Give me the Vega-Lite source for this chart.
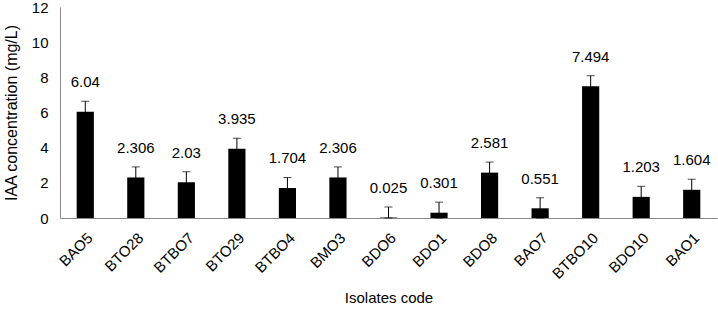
{
  "$schema": "https://vega.github.io/schema/vega-lite/v6.json",
  "autosize": {"type": "none"},
  "width": 657,
  "height": 211,
  "padding": {"left": 60, "top": 7, "right": 1, "bottom": 92},
  "background": "white",
  "config": {
    "view": {"stroke": null},
    "font": "Liberation Sans",
    "axis": {"labelFont": "Liberation Sans", "titleFont": "Liberation Sans", "labelColor": "#000", "titleColor": "#000", "grid": false, "ticks": false, "domainColor": "#898989", "labelFontSize": 15, "titleFontSize": 15, "titleFontWeight": "normal"},
    "axisY": {"labelOverlap": false, "labelFlush": false, "labelBound": false}
  },
  "data": {
    "values": [
      {"code": "BAO5", "value": 6.04, "err": 0.6},
      {"code": "BTO28", "value": 2.306, "err": 0.6},
      {"code": "BTBO7", "value": 2.03, "err": 0.6},
      {"code": "BTO29", "value": 3.935, "err": 0.6},
      {"code": "BTBO4", "value": 1.704, "err": 0.6},
      {"code": "BMO3", "value": 2.306, "err": 0.6},
      {"code": "BDO6", "value": 0.025, "err": 0.6},
      {"code": "BDO1", "value": 0.301, "err": 0.6},
      {"code": "BDO8", "value": 2.581, "err": 0.6},
      {"code": "BAO7", "value": 0.551, "err": 0.6},
      {"code": "BTBO10", "value": 7.494, "err": 0.6},
      {"code": "BDO10", "value": 1.203, "err": 0.6},
      {"code": "BAO1", "value": 1.604, "err": 0.6}
    ]
  },
  "transform": [
    {"calculate": "datum.value + datum.err", "as": "hi"},
    {"calculate": "max(0, datum.value - datum.err)", "as": "lo"}
  ],
  "encoding": {
    "x": {
      "field": "code", "type": "nominal", "sort": null,
      "scale": {"paddingInner": 0.66, "paddingOuter": 0.33},
      "axis": {"title": "Isolates code", "labelAngle": -45, "labelAlign": "right", "labelBaseline": "top", "labelPadding": 12, "titlePadding": 9}
    }
  },
  "layer": [
    {
      "mark": {"type": "bar", "color": "#000"},
      "encoding": {
        "y": {"field": "value", "type": "quantitative",
          "scale": {"domain": [0, 12], "nice": false},
          "axis": {"title": "IAA concentration (mg/L)", "titleFontSize": 16, "values": [0, 2, 4, 6, 8, 10, 12], "labelOverlap": false, "labelPadding": 12, "titlePadding": 12}}
      }
    },
    {
      "mark": {"type": "rule", "color": "#000", "strokeWidth": 1},
      "encoding": {"y": {"field": "lo", "type": "quantitative", "scale": {"domain": [0, 12], "nice": false},
          "axis": {"title": "IAA concentration (mg/L)", "titleFontSize": 16, "values": [0, 2, 4, 6, 8, 10, 12], "labelOverlap": false, "labelPadding": 12, "titlePadding": 12}}, "y2": {"field": "hi"}}
    },
    {
      "mark": {"type": "tick", "color": "#000", "size": 8, "thickness": 1},
      "encoding": {"y": {"field": "hi", "type": "quantitative", "scale": {"domain": [0, 12], "nice": false},
          "axis": {"title": "IAA concentration (mg/L)", "titleFontSize": 16, "values": [0, 2, 4, 6, 8, 10, 12], "labelOverlap": false, "labelPadding": 12, "titlePadding": 12}}}
    },
    {
      "mark": {"type": "tick", "color": "#000", "size": 8, "thickness": 1},
      "encoding": {"y": {"field": "lo", "type": "quantitative", "scale": {"domain": [0, 12], "nice": false},
          "axis": {"title": "IAA concentration (mg/L)", "titleFontSize": 16, "values": [0, 2, 4, 6, 8, 10, 12], "labelOverlap": false, "labelPadding": 12, "titlePadding": 12}}}
    },
    {
      "mark": {"type": "text", "fontSize": 15, "baseline": "bottom", "dy": -11, "color": "#000"},
      "encoding": {"y": {"field": "hi", "type": "quantitative", "scale": {"domain": [0, 12], "nice": false},
          "axis": {"title": "IAA concentration (mg/L)", "titleFontSize": 16, "values": [0, 2, 4, 6, 8, 10, 12], "labelOverlap": false, "labelPadding": 12, "titlePadding": 12}}, "text": {"field": "value", "type": "quantitative"}}
    }
  ]
}
